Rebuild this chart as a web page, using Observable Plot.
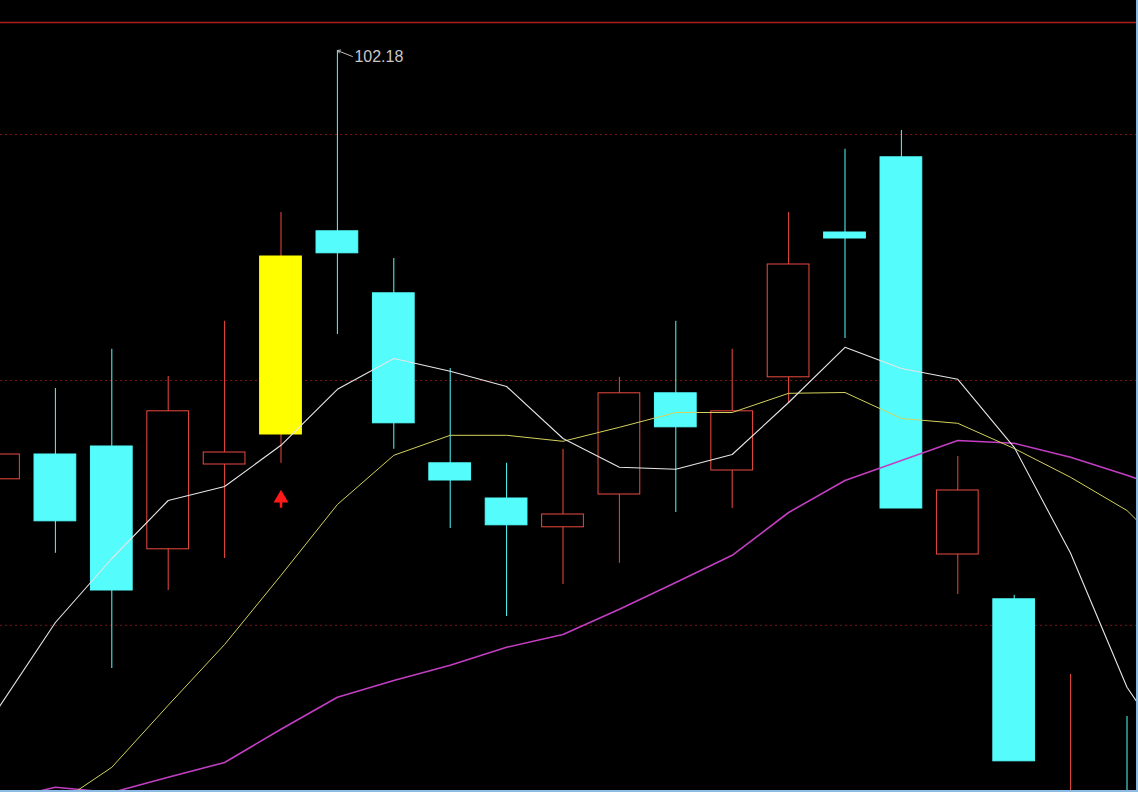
<!DOCTYPE html>
<html><head><meta charset="utf-8">
<script src="https://cdn.jsdelivr.net/npm/d3@7"></script>
<script src="https://cdn.jsdelivr.net/npm/@observablehq/plot@0.6"></script>
<style>
html,body{margin:0;padding:0;background:#000;overflow:hidden}
#chart{width:1138px;height:792px;overflow:hidden;background:#000}
</style>
</head><body><div id="chart"></div>
<script>
// ---- data (prices) ----
const openP  = [91.46, 92.08, 92.28, 89.71, 91.83, 92.58, 97.66, 96.11, 91.86, 90.98, 90.26, 91.08, 93.61, 91.68, 94.01, 97.63, 99.51, 89.58, 88.46, 82.68, 83.43];
const closeP = [92.08, 90.41, 88.68, 93.16, 92.13, 97.03, 97.11, 92.86, 91.43, 90.31, 90.58, 93.61, 92.76, 93.16, 96.83, 97.48, 90.73, 91.18, 84.41, 83.31, 82.18];
const highP  = [92.31, 93.73, 94.71, 94.03, 95.41, 98.13, 102.18, 96.98, 94.23, 91.86, 92.21, 94.01, 95.41, 94.71, 98.13, 99.71, 100.18, 92.03, 88.56, 86.58, 85.53];
const lowP   = [91.18, 89.61, 86.73, 88.68, 89.48, 91.86, 95.08, 92.21, 90.23, 88.03, 88.83, 89.36, 90.63, 90.73, 93.36, 94.98, 90.73, 88.58, 84.41, 82.18, 81.68];
const highlighted = [5];          // candle drawn with a yellow body
const signalIndex = [5];          // red up-arrow signal
const signalPrice = [91.1];
const ma5  = [85.76, 87.88, 89.48, 90.93, 91.28, 92.31, 93.71, 94.48, 94.16, 93.78, 92.48, 91.76, 91.71, 92.08, 93.38, 94.76, 94.23, 93.96, 92.26, 89.61, 86.26, 84.18];
const ma10 = [82.18, 83.31, 84.26, 85.81, 87.33, 89.06, 90.83, 92.06, 92.56, 92.56, 92.41, 92.76, 93.13, 93.13, 93.61, 93.63, 92.98, 92.86, 92.23, 91.51, 90.68, 89.28];
const ma20 = [83.43, 83.76, 83.63, 84.01, 84.38, 85.21, 86.01, 86.43, 86.81, 87.26, 87.58, 88.21, 88.88, 89.56, 90.63, 91.43, 91.93, 92.43, 92.36, 92.01, 91.56, 91.06];
const gridSolid  = [102.88];
const gridDotted = [100.08, 93.93, 87.81];

// ---- layout ----
const W = 1138, H = 792;
const step = 56.4, x0px = -1.5;               // pixel centre of candle 0 and spacing
const xDomain = [(0 - x0px) / step, (W - x0px) / step];
const yDomain = [83.63, 103.43];
const ux = (xDomain[1] - xDomain[0]) / W;     // x units per pixel
const uy = (yDomain[1] - yDomain[0]) / H;     // y units per pixel

const RED = "#ec4a40", CYAN = "#54fcfc", YEL = "#ffff00";

const candles = openP.map((o, i) => {
  const c = closeP[i];
  const up = c >= o;
  const hl = highlighted.includes(i);
  return {i, o, c, h: highP[i], l: lowP[i], up, hl,
    wick: up ? RED : CYAN,
    fill: hl ? YEL : (up ? "#000" : CYAN),
    stroke: hl ? YEL : (up ? RED : CYAN)};
});
const series = (arr) => arr.map((v, i) => ({i, v}));

const maxI = d3.maxIndex(highP);
const maxH = highP[maxI];
const sig = signalIndex.map((i, k) => ({i, p: signalPrice[k]}));

const plot = Plot.plot({
  width: W, height: H,
  margin: 0,
  style: {background: "#000", overflow: "hidden"},
  x: {domain: xDomain, axis: null},
  y: {domain: yDomain, axis: null},
  color: {type: "identity"},
  marks: [
    Plot.ruleY(gridSolid, {stroke: "#b01c1c", strokeWidth: 1.6}),
    Plot.ruleY(gridDotted, {stroke: "#7a1414", strokeWidth: 1, strokeDasharray: "2,3"}),
    Plot.ruleX(candles, {x: "i", y1: "l", y2: "h", stroke: "wick", strokeWidth: 1, clip: true}),
    Plot.rect(candles, {x1: d => d.i - 0.37, x2: d => d.i + 0.37, y1: "o", y2: "c",
      fill: "fill", stroke: "stroke", strokeWidth: 1, clip: true}),
    Plot.line(series(ma20), {x: "i", y: "v", stroke: "#c23ec2", strokeWidth: 1.6, clip: true}),
    Plot.line(series(ma10), {x: "i", y: "v", stroke: "#d2d25c", strokeWidth: 1, clip: true}),
    Plot.line(series(ma5), {x: "i", y: "v", stroke: "#e6e6e6", strokeWidth: 1.1, clip: true}),
    // buy signal arrow
    Plot.link(sig, {x1: "i", x2: "i", y1: d => d.p - 6 * uy, y2: d => d.p - 14 * uy, stroke: "#ff1a1a", strokeWidth: 2.5}),
    Plot.dot(sig, {x: "i", y: d => d.p - 4.5 * uy, symbol: "triangle", r: 5.5, fill: "#ff1a1a"}),
    // max annotation
    Plot.arrow([{x1: maxI + 15 * ux, y1: maxH - 6 * uy, x2: maxI, y2: maxH}],
      {x1: "x1", y1: "y1", x2: "x2", y2: "y2", stroke: "#bdbdbd", strokeWidth: 1, headLength: 5, inset: 0}),
    Plot.text([{x: maxI, y: maxH, t: maxH.toFixed(2)}],
      {x: "x", y: "y", text: "t", dx: 17, dy: 6, textAnchor: "start", fill: "#c8c8c8",
       fontSize: 16, fontFamily: "Liberation Sans, Arial, sans-serif"}),
    // light-blue border on bottom and right
    Plot.ruleY([yDomain[0] + 1.5 * uy], {stroke: "#8cbce4", strokeWidth: 2}),
    Plot.ruleX([xDomain[1] - 1.5 * ux], {stroke: "#8cbce4", strokeWidth: 2})
  ]
});
document.getElementById("chart").appendChild(plot);
</script>
</body></html>
